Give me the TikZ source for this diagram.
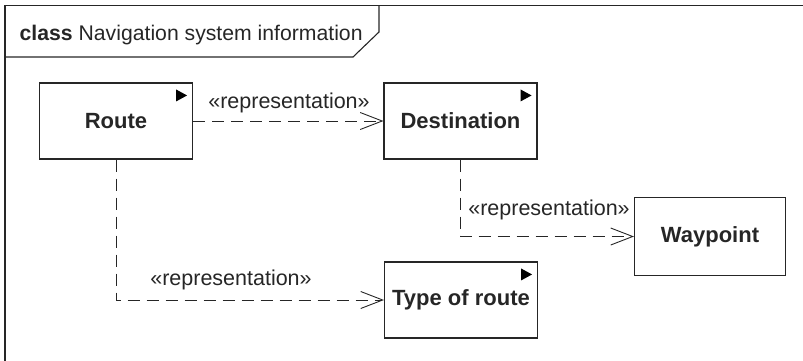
\documentclass[tikz,border=0pt]{standalone}
\usepackage{fontspec}
\setmainfont{Liberation Sans}
\usetikzlibrary{arrows.meta,calc}
\definecolor{ink}{HTML}{262626}
\tikzset{
  cls/.style={draw=ink, line width=1.1pt, rectangle, inner sep=0pt,
    minimum width=153pt, minimum height=76pt, font=\fontsize{22}{26}\selectfont\bfseries, text=ink},
  dep/.style={draw=ink, line width=0.9pt, dash pattern=on 12pt off 7pt,
    -{Straight Barb[length=22pt,width=17pt,line width=0.9pt]}},
  lbl/.style={font=\fontsize{21.5}{25}\selectfont, text=ink, inner sep=0pt},
  tri/.style={fill=black}
}
\newcommand{\abstri}[1]{\fill[tri] ($(#1.north east)+(-17,7)$) -- ($(#1.north east)+(-17,19)$) -- ($(#1.north east)+(-6,13)$) -- cycle;}
\begin{document}
\begin{tikzpicture}[x=1pt,y=-1pt]
\useasboundingbox (0,0) rectangle (803,360);
\begin{scope}
\clip (0,0) rectangle (803,360);
\draw[ink, line width=1.4pt] (5,5.5) rectangle (820,380);
\end{scope}
\draw[ink, line width=1.1pt] (5,57) -- (353,57) -- (379,32) -- (379,5.5);
\node[lbl, anchor=base west, font=\fontsize{21.2}{25}\selectfont] (title) at (19.5,40) {\textbf{class} Navigation system information};

\node[cls] (Route) at (116,121) {\raisebox{-1.5pt}{Route}};
\node[cls] (Dest) at (460.5,121) {\raisebox{-1.5pt}{Destination}};
\node[cls, minimum width=151pt, minimum height=78pt] (Way) at (710,236.5) {\raisebox{-1.5pt}{Waypoint}};
\node[cls] (Type) at (461,300) {\raisebox{-1.5pt}{Type of route}};

\abstri{Route}
\abstri{Dest}
\abstri{Type}

\draw[dep] (Route.east) -- (Dest.west);
\node[lbl] (l1) at (289,103) {«representation»};
\draw[dep] (Dest.south) |- (Way.west);
\node[lbl] (l2) at (549,210) {«representation»};
\draw[dep] (Route.south) |- (Type.west);
\node[lbl] (l3) at (231,280) {«representation»};
\end{tikzpicture}
\end{document}
